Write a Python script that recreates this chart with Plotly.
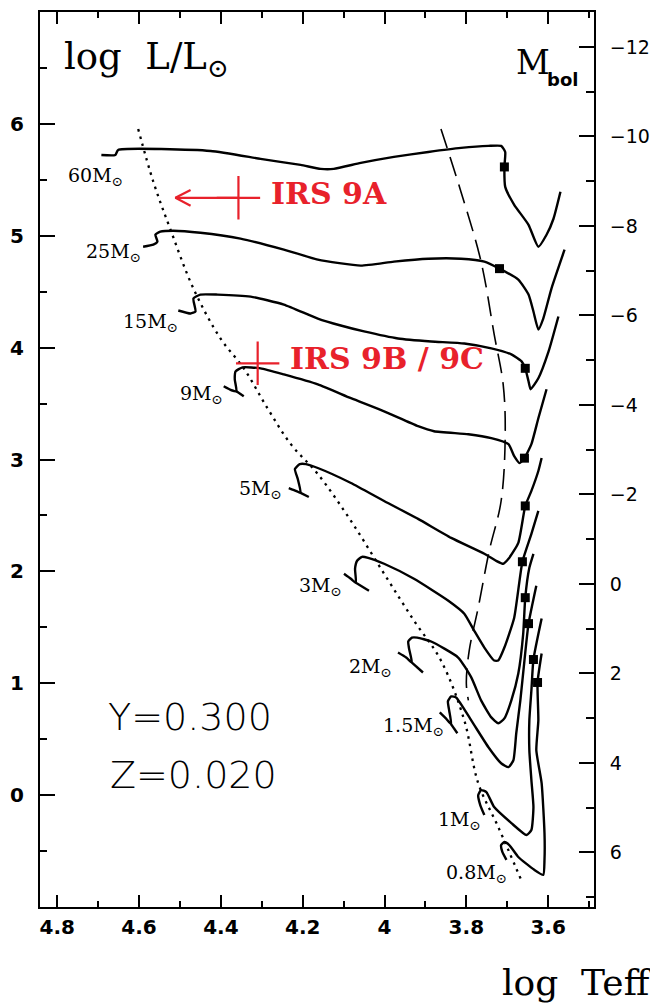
import plotly.graph_objects as go

N = None
MSUN_BOL = 4.72

# ---------------- evolutionary tracks (log Teff, log L/Lsun) ----------------
t60 = [4.692, 4.658, 4.651, 4.425, 4.303, 4.205, 4.156, 4.124, 4.058, 3.977, 3.893, 3.813, 3.746, 3.715, 3.705, 3.707, 3.705, 3.683, 3.648, 3.624, 3.604, 3.587, 3.570]
l60 = [5.722, 5.722, 5.767, 5.758, 5.687, 5.633, 5.598, 5.598, 5.651, 5.705, 5.749, 5.785, 5.803, 5.803, 5.749, 5.615, 5.437, 5.277, 5.098, 4.902, 5.009, 5.152, 5.393]

t25 = [4.590, 4.565, 4.555, 4.560, 4.548, 4.516, 4.450, 4.352, 4.246, 4.163, 4.058, 3.977, 3.893, 3.813, 3.756, 3.719, 3.673, 3.648, 3.636, 3.624, 3.612, 3.592, 3.560]
l25 = [4.902, 4.920, 4.947, 5.009, 5.036, 5.045, 5.027, 4.974, 4.876, 4.787, 4.733, 4.769, 4.795, 4.795, 4.769, 4.706, 4.608, 4.474, 4.323, 4.162, 4.260, 4.528, 4.875]

t15 = [4.504, 4.474, 4.462, 4.467, 4.450, 4.408, 4.327, 4.246, 4.163, 4.107, 4.050, 3.967, 3.886, 3.805, 3.739, 3.690, 3.665, 3.656, 3.648, 3.643, 3.624, 3.599, 3.575]
l15 = [4.332, 4.305, 4.323, 4.439, 4.474, 4.474, 4.456, 4.385, 4.260, 4.198, 4.145, 4.082, 4.055, 4.037, 3.993, 3.939, 3.877, 3.815, 3.699, 3.628, 3.726, 3.966, 4.278]

t9 = [4.393, 4.374, 4.362, 4.366, 4.364, 4.347, 4.303, 4.246, 4.163, 4.082, 4.001, 3.918, 3.879, 3.795, 3.739, 3.697, 3.683, 3.670, 3.658, 3.641, 3.624, 3.604, N, 4.362, 4.344]
l9 = [3.655, 3.619, 3.610, 3.717, 3.788, 3.824, 3.815, 3.761, 3.672, 3.548, 3.431, 3.298, 3.253, 3.226, 3.191, 3.137, 3.030, 2.968, 3.012, 3.137, 3.369, 3.628, N, 3.610, 3.565]

t5 = [4.234, 4.215, 4.205, 4.212, 4.219, 4.207, 4.192, 4.163, 4.082, 4.001, 3.918, 3.837, 3.756, 3.727, 3.710, 3.697, 3.673, 3.656, 3.641, 3.624, 3.616, N, 4.205, 4.185]
l5 = [2.745, 2.718, 2.701, 2.826, 2.915, 2.959, 2.959, 2.924, 2.790, 2.629, 2.469, 2.299, 2.157, 2.094, 2.068, 2.112, 2.255, 2.585, 2.719, 2.897, 3.013, N, 2.701, 2.665]

t3 = [4.099, 4.082, 4.070, 4.072, 4.067, 4.055, 4.040, 4.001, 3.928, 3.844, 3.805, 3.781, 3.756, 3.732, 3.722, 3.707, 3.683, 3.663, 3.641, 3.624, N, 4.070, 4.038]
l3 = [1.979, 1.934, 1.898, 2.023, 2.095, 2.130, 2.121, 2.068, 1.934, 1.738, 1.622, 1.471, 1.319, 1.203, 1.203, 1.319, 1.586, 2.086, 2.335, 2.540, N, 1.898, 1.827]

t2 = [3.967, 3.947, 3.933, 3.940, 3.942, 3.933, 3.920, 3.886, 3.820, 3.788, 3.764, 3.739, 3.722, 3.707, 3.690, 3.673, 3.661, 3.656, 3.646, 3.636, N, 3.933, 3.906]
l2 = [1.275, 1.230, 1.185, 1.310, 1.373, 1.408, 1.408, 1.373, 1.230, 1.052, 0.847, 0.695, 0.642, 0.686, 0.847, 1.087, 1.444, 1.765, 2.032, 2.157, N, 1.185, 1.096]

t15b = [3.865, 3.850, 3.837, 3.842, 3.845, 3.837, 3.825, 3.788, 3.746, 3.715, 3.697, 3.685, 3.678, 3.668, 3.658, 3.648, 3.629, N, 3.837, 3.822]
l15b = [0.740, 0.686, 0.633, 0.758, 0.838, 0.882, 0.873, 0.668, 0.428, 0.285, 0.250, 0.312, 0.553, 0.847, 1.203, 1.533, 1.872, N, 0.633, 0.553]

t1 = [3.756, 3.766, 3.771, 3.764, 3.751, 3.732, 3.690, 3.653, 3.641, 3.636, 3.641, 3.646, 3.646, 3.641, 3.636, 3.616]
l1 = [-0.178, -0.089, 0.000, 0.045, 0.027, -0.107, -0.250, -0.357, -0.312, -0.107, 0.134, 0.401, 0.668, 0.936, 1.212, 1.578]

t08 = [3.702, 3.712, 3.715, 3.707, 3.695, 3.673, 3.634, 3.612, 3.609, 3.609, 3.616, 3.629, 3.624, 3.626, 3.616]
l08 = [-0.579, -0.508, -0.446, -0.419, -0.446, -0.553, -0.668, -0.713, -0.579, -0.339, 0.107, 0.401, 0.668, 1.007, 1.266]

# filled squares on the tracks
sq_t = [3.707, 3.719, 3.656, 3.658, 3.656, 3.663, 3.656, 3.648, 3.636, 3.626]
sq_l = [5.615, 4.706, 3.815, 3.012, 2.585, 2.086, 1.765, 1.533, 1.212, 1.007]

# dotted line
dot_t = [4.602, 4.565, 4.523, 4.467, 4.401, 4.344, 4.286, 4.229, 4.163, 4.082, 4.001, 3.928, 3.862, 3.805, 3.771, 3.722, 3.666]
dot_l = [5.954, 5.482, 5.054, 4.528, 4.082, 3.815, 3.458, 3.137, 2.870, 2.451, 1.979, 1.560, 1.203, 0.668, 0.107, -0.285, -0.758]

# dashed line
dash_t = [3.862, 3.813, 3.764, 3.732, 3.710, 3.705, 3.715, 3.744, 3.771, 3.793, 3.800, 3.795]
dash_l = [5.954, 5.392, 4.768, 4.118, 3.672, 3.226, 2.629, 2.184, 1.676, 1.292, 0.998, 0.847]

# track labels
lab_text = ["60M", "25M", "15M", "9M", "5M", "3M", "2M", "1.5M", "1M", "0.8M"]
lab_t = [4.634, 4.590, 4.499, 4.389, 4.246, 4.099, 3.977, 3.849, 3.759, 3.695]
lab_l = [5.526, 4.849, 4.225, 3.583, 2.728, 1.863, 1.141, 0.615, -0.231, -0.704]

# IRS sources
irs_names = ["IRS 9A", "IRS 9B / 9C"]
irs_t = [4.357, 4.310]
irs_l = [5.339, 3.860]
irs_text_t = [4.283, 4.237]
irs_text_l = [5.375, 3.904]
irs9a_arrow_tip = 4.511

# axes
x_ticks = [4.8, 4.6, 4.4, 4.2, 4.0, 3.8, 3.6]
x_ticktext = ["4.8", "4.6", "4.4", "4.2", "4", "3.8", "3.6"]
x_minor = [4.7, 4.5, 4.3, 4.1, 3.9, 3.7, 3.5]
y_ticks = [0, 1, 2, 3, 4, 5, 6]
y_minor = [-0.5, 0.5, 1.5, 2.5, 3.5, 4.5, 5.5, 6.5]
m_ticks = [-12, -10, -8, -6, -4, -2, 0, 2, 4, 6]
m_minor = [-11, -9, -7, -5, -3, -1, 1, 3, 5, 7]

RED = "#e8212b"
fig = go.Figure()

for tt, ll in [(t60, l60), (t25, l25), (t15, l15), (t9, l9), (t5, l5), (t3, l3),
               (t2, l2), (t15b, l15b), (t1, l1), (t08, l08)]:
    fig.add_trace(go.Scatter(x=tt, y=ll, mode="lines", line=dict(color="black", width=2.4, shape="spline", smoothing=0.5),
                             connectgaps=False, hoverinfo="skip"))

fig.add_trace(go.Scatter(x=dot_t, y=dot_l, mode="lines", line=dict(color="black", width=2.3, dash="2.5px,5px", shape="spline")))
fig.add_trace(go.Scatter(x=dash_t, y=dash_l, mode="lines", line=dict(color="black", width=1.6, dash="20px,9px", shape="spline")))
fig.add_trace(go.Scatter(x=sq_t, y=sq_l, mode="markers", marker=dict(symbol="square", size=9, color="black")))

# IRS crosses
fig.add_trace(go.Scatter(x=irs_t, y=irs_l, mode="markers",
                         marker=dict(symbol="cross-thin", size=31, line=dict(color=RED, width=2.2))))
# arrow for IRS 9A (upper limit in Teff); head arms point back toward the cross
dx, dy = 0.037, 0.07
fig.add_trace(go.Scatter(
    x=[irs_t[0], irs9a_arrow_tip, N, irs9a_arrow_tip - dx, irs9a_arrow_tip, irs9a_arrow_tip - dx],
    y=[irs_l[0], irs_l[0], N, irs_l[0] + dy, irs_l[0], irs_l[0] - dy],
    mode="lines", line=dict(color=RED, width=2.2)))

# dummy trace for the Mbol axis
fig.add_trace(go.Scatter(x=[4.0], y=[0], yaxis="y2", mode="markers", marker=dict(opacity=0), hoverinfo="skip"))

for txt, tx, ly in zip(lab_text, lab_t, lab_l):
    fig.add_annotation(x=tx, y=ly, text=txt + "<sub>⊙</sub>", showarrow=False, xanchor="right", yanchor="middle",
                       font=dict(family="DejaVu Serif", size=19, color="black"))

for name, tx, ly in zip(irs_names, irs_text_t, irs_text_l):
    fig.add_annotation(x=tx, y=ly, text=name, showarrow=False, xanchor="left", yanchor="middle",
                       font=dict(family="DejaVu Serif", size=30, color=RED, weight="bold"))

def ptext(px_x, px_y, text, size, family, weight="normal"):
    fig.add_annotation(xref="paper", yref="paper", x=px_x, y=px_y, text=text, showarrow=False,
                       xanchor="left", yanchor="middle",
                       font=dict(family=family, size=size, color="black", weight=weight))

ptext(0.040, 0.948, "log\u00a0 L/L<sub>⊙</sub>", 37, "DejaVu Serif")
ptext(0.855, 0.944, "M", 33, "DejaVu Serif")
ptext(0.912, 0.925, "bol", 18, "DejaVu Sans", "bold")
ptext(0.830, -0.084, "log\u00a0 Teff", 36, "DejaVu Serif")
ptext(0.119, 0.212, "Y=0.300", 38, "DejaVu Sans", 300)
ptext(0.123, 0.148, "Z=0.020", 38, "DejaVu Sans", 300)

tickfont = dict(family="DejaVu Sans", size=20, color="black", weight="bold")
fig.update_layout(
    width=658, height=1003, margin=dict(l=32, r=72, t=2, b=104),
    plot_bgcolor="white", paper_bgcolor="white", showlegend=False,
    xaxis=dict(range=[4.842, 3.488], showline=True, linewidth=2, linecolor="black", mirror="ticks",
               ticks="inside", ticklen=12, tickwidth=2, tickcolor="black",
               tickmode="array", tickvals=x_ticks, ticktext=x_ticktext, tickfont=tickfont,
               ticklabelstandoff=1,
               minor=dict(tickmode="array", tickvals=x_minor, ticks="inside", ticklen=6, tickwidth=2, tickcolor="black"),
               showgrid=False, zeroline=False),
    yaxis=dict(range=[-1, 7], showline=True, linewidth=2, linecolor="black",
               ticks="inside", ticklen=15, tickwidth=2, tickcolor="black",
               tickmode="array", tickvals=y_ticks, tickfont=tickfont, ticklabelstandoff=10,
               minor=dict(tickmode="array", tickvals=y_minor, ticks="inside", ticklen=7, tickwidth=2, tickcolor="black"),
               showgrid=False, zeroline=False),
    yaxis2=dict(overlaying="y", side="right", range=[MSUN_BOL + 2.5, MSUN_BOL - 2.5 * 7],
                showline=True, linewidth=2, linecolor="black",
                ticks="inside", ticklen=15, tickwidth=2, tickcolor="black",
                tickmode="array", tickvals=m_ticks, ticktext=[("\u2212" + str(-v)) if v < 0 else str(v) for v in m_ticks],
                tickfont=dict(family="DejaVu Sans", size=19, color="black"), ticklabelstandoff=10,
                minor=dict(tickmode="array", tickvals=m_minor, ticks="inside", ticklen=8, tickwidth=2, tickcolor="black"),
                showgrid=False, zeroline=False),
)

fig.write_html("out.html")
